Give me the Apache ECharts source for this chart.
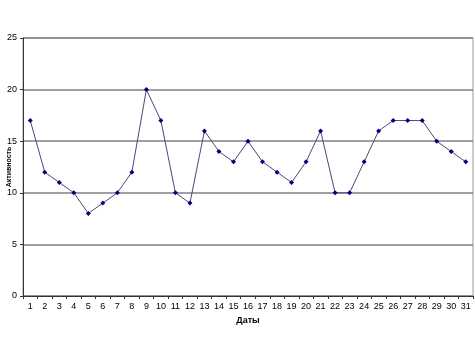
<!DOCTYPE html>
<html><head><meta charset="utf-8">
<script src="https://cdn.jsdelivr.net/npm/echarts@6/dist/echarts.min.js"></script>
<style>html,body{margin:0;padding:0;background:#fff}#c{width:475px;height:356px}</style>
</head><body><div id="c"></div>
<script>
const categories = ['1','2','3','4','5','6','7','8','9','10','11','12','13','14','15','16','17','18','19','20','21','22','23','24','25','26','27','28','29','30','31'];
const activity = [17,12,11,10,8,9,10,12,20,17,10,9,16,14,13,15,13,12,11,13,16,10,10,13,16,17,17,17,15,14,13];
const yTicks = [0,5,10,15,20,25];

const chart = echarts.init(document.getElementById('c'));
chart.setOption({
  animation: false,
  backgroundColor: '#fff',
  grid: {left: 23, right: 2, top: 38, bottom: 60, containLabel: false, outerBoundsMode: 'none',
    show: true, borderColor: '#999', borderWidth: 1},
  xAxis: {
    type: 'category', data: categories, boundaryGap: true,
    name: 'Даты', nameLocation: 'middle', nameGap: 20, nameMoveOverlap: false,
    nameTextStyle: {fontFamily: 'Arial, Liberation Sans', fontSize: 9, fontWeight: 'bold', color: '#000'},
    axisLine: {lineStyle: {color: '#333', width: 1}},
    axisTick: {show: true, alignWithLabel: false, length: 3, lineStyle: {color: '#333'}},
    axisLabel: {fontFamily: 'Arial, Liberation Sans', fontSize: 9, color: '#000', interval: 0, margin: 6}
  },
  yAxis: {
    type: 'value', min: 0, max: 25, interval: 5,
    name: 'Активность', nameLocation: 'middle', nameGap: 10, nameRotate: 90, nameMoveOverlap: false,
    nameTextStyle: {fontFamily: 'Arial, Liberation Sans', fontSize: 7, fontWeight: 'bold', color: '#000'},
    axisLine: {show: true, lineStyle: {color: '#333', width: 1}},
    axisTick: {show: true, length: 3, lineStyle: {color: '#333'}},
    axisLabel: {fontFamily: 'Arial, Liberation Sans', fontSize: 9, color: '#000', margin: 6,
      formatter: v => yTicks.includes(v) ? String(v) : ''},
    splitLine: {show: true, lineStyle: {color: '#7f7f7f', width: 1.5}}
  },
  series: [{
    type: 'line', data: activity,
    symbol: 'diamond', symbolSize: 5,
    itemStyle: {color: '#000080'},
    lineStyle: {color: '#4a4a78', width: 1}
  }]
});
</script></body></html>
